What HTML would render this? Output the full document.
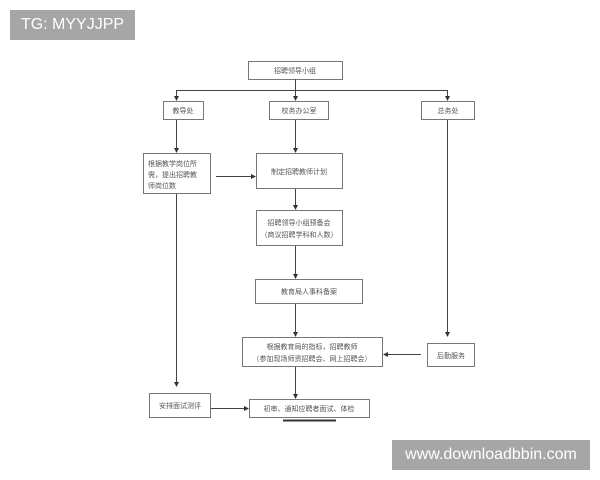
<!DOCTYPE html>
<html><head><meta charset="utf-8"><style>
body{margin:0;background:#fff;width:600px;height:480px;overflow:hidden;position:relative}
svg{position:absolute;left:0;top:0}
.wm{position:absolute;background:#a6a6a6;color:#fff;font-family:"Liberation Sans",sans-serif;font-size:16px;line-height:30px;text-align:center}
</style></head><body>
<svg width="600" height="480" viewBox="0 0 600 480" font-family="'Liberation Sans','Noto Sans CJK SC',sans-serif" font-size="7" fill="#555">
<defs><marker id="a" markerWidth="5" markerHeight="5" refX="4" refY="2.5" orient="auto"><path d="M0,0 L5,2.5 L0,5z" fill="#333"/></marker></defs>
<g stroke="#777" stroke-width="1" fill="#fff">
<rect x="248.5" y="61.5" width="94" height="18"/>
<rect x="163.5" y="101.5" width="40" height="18"/>
<rect x="269.5" y="101.5" width="59" height="18"/>
<rect x="421.5" y="101.5" width="53" height="18"/>
<rect x="143.5" y="153.5" width="67" height="40"/>
<rect x="256.5" y="153.5" width="86" height="35"/>
<rect x="256.5" y="210.5" width="86" height="35"/>
<rect x="255.5" y="279.5" width="107" height="24"/>
<rect x="242.5" y="337.5" width="140" height="29"/>
<rect x="427.5" y="343.5" width="47" height="23"/>
<rect x="149.5" y="393.5" width="61" height="24"/>
<rect x="249.5" y="399.5" width="120" height="18"/>
</g>
<g stroke="#444" stroke-width="1" fill="none" marker-end="url(#a)">
<line x1="295.5" y1="79" x2="295.5" y2="100"/>
<line x1="176.5" y1="90.5" x2="176.5" y2="100"/>
<line x1="447.5" y1="90.5" x2="447.5" y2="100"/>
<line x1="176.5" y1="120" x2="176.5" y2="152"/>
<line x1="295.5" y1="120" x2="295.5" y2="152"/>
<line x1="216" y1="176.5" x2="255" y2="176.5"/>
<line x1="295.5" y1="189" x2="295.5" y2="209"/>
<line x1="295.5" y1="246" x2="295.5" y2="278"/>
<line x1="295.5" y1="304" x2="295.5" y2="336"/>
<line x1="447.5" y1="120" x2="447.5" y2="336"/>
<line x1="421" y1="354.5" x2="384" y2="354.5"/>
<line x1="176.5" y1="194" x2="176.5" y2="386"/>
<line x1="295.5" y1="367" x2="295.5" y2="398"/>
<line x1="211" y1="408.5" x2="248" y2="408.5"/>
</g>
<line x1="176" y1="90.5" x2="448" y2="90.5" stroke="#444"/>
<line x1="283" y1="420.5" x2="336" y2="420.5" stroke="#333" stroke-width="2"/>
<g text-anchor="middle">
<text x="295" y="73">招聘领导小组</text>
<text x="183" y="113">教导处</text>
<text x="299" y="113">校务办公室</text>
<text x="448" y="113">总务处</text>
<text x="299" y="174">制定招聘教师计划</text>
<text x="299" y="225">招聘领导小组预备会</text>
<text x="299" y="237">（商议招聘学科和人数）</text>
<text x="309" y="294">教育局人事科备案</text>
<text x="312" y="349">根据教育局的指标，招聘教师</text>
<text x="312" y="361">（参加现场师资招聘会、网上招聘会）</text>
<text x="451" y="358">后勤服务</text>
<text x="180" y="408">安排面试测评</text>
<text x="309" y="411">初审、通知应聘者面试、体检</text>
</g>
<text x="148" y="166">根据教学岗位所</text>
<text x="148" y="177">需，提出招聘教</text>
<text x="148" y="188">师岗位数</text>
</svg>
<div class="wm" style="left:10px;top:10px;width:125px;height:30px">TG: MYYJJPP</div>
<div class="wm" style="left:392px;top:440px;width:198px;height:30px">www.downloadbbin.com</div>
</body></html>
